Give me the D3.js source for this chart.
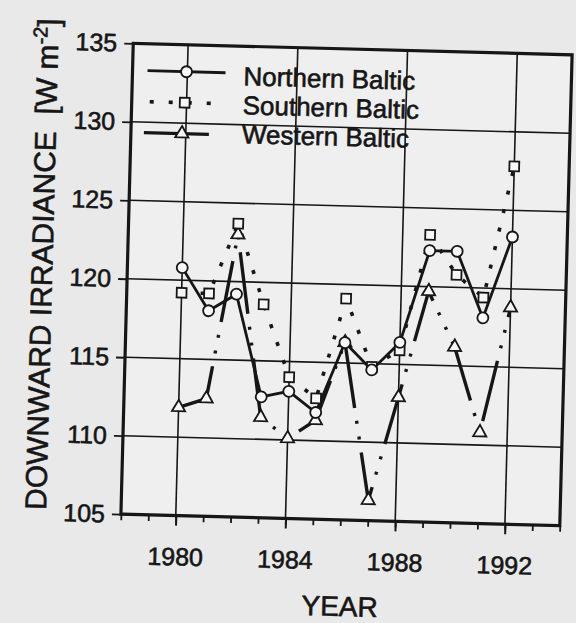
<!DOCTYPE html>
<html>
<head>
<meta charset="utf-8">
<script src="https://cdn.jsdelivr.net/npm/d3@7"></script>
<style>
  body { margin: 0; background: #e9e9e9; }
  svg { display: block; font-family: "Liberation Sans", Arial, Helvetica, sans-serif; }
  svg text { stroke: #161616; stroke-width: 0.6px; }
</style>
</head>
<body>
<script>
// yearly mean downward irradiance
const years = [1980, 1981, 1982, 1983, 1984, 1985, 1986, 1987, 1988, 1989, 1990, 1991, 1992];
const northern = [120.8, 118.1, 119.2, 112.7, 113.1, 111.8, 116.3, 114.6, 116.4, 122.3, 122.3, 118.1, 123.3];
const southern = [119.2, 119.2, 123.7, 118.6, 114.0, 112.7, 119.1, 114.8, 115.9, 123.3, 120.8, 119.4, 127.8];
const western = [111.9, 112.5, 123.0, 111.4, 110.1, 111.3, 116.3, 106.3, 112.9, 119.7, 116.2, 110.8, 118.8];
const yTicks = [105, 110, 115, 120, 125, 130, 135];
const xTicks = [1980, 1984, 1988, 1992];
const seriesNames = ["Northern Baltic", "Southern Baltic", "Western Baltic"];

const W = 576, H = 623,
      margin = {top: 49, right: 10, bottom: 103, left: 127},
      w = W - margin.left - margin.right,
      h = H - margin.top - margin.bottom,
      ink = "#161616";

const svg = d3.select("body")
  .append("svg")
  .attr("width", W)
  .attr("height", H);

svg.append("rect")
  .attr("width", W)
  .attr("height", H)
  .attr("fill", "#e9e9e9");

// the scanned figure sits slightly tilted on the page
const g = svg.append("g")
  .attr("transform", "rotate(1.5,346.5,284.75)");

const xScale = d3.scaleLinear()
  .domain([1978, 1994])
  .range([margin.left, margin.left + w]);

const yScale = d3.scaleLinear()
  .domain([105, 135])
  .range([margin.top + h, margin.top]);

g.append("rect")
  .attr("x", margin.left)
  .attr("y", margin.top)
  .attr("width", w)
  .attr("height", h)
  .attr("fill", "#efefef");

// grid
g.selectAll(".hgrid")
  .data(yTicks.slice(1, -1))
  .enter().append("line")
  .attr("x1", margin.left)
  .attr("x2", margin.left + w)
  .attr("y1", d => yScale(d))
  .attr("y2", d => yScale(d))
  .attr("stroke", ink)
  .attr("stroke-width", 1.6);

g.selectAll(".vgrid")
  .data(xTicks)
  .enter().append("line")
  .attr("x1", d => xScale(d))
  .attr("x2", d => xScale(d))
  .attr("y1", margin.top)
  .attr("y2", margin.top + h)
  .attr("stroke", ink)
  .attr("stroke-width", 1.6);

// axes
const yAxis = d3.axisLeft(yScale)
  .tickValues(yTicks)
  .tickSize(9)
  .tickPadding(7);

g.append("g")
  .attr("transform", "translate(" + margin.left + ",0)")
  .call(yAxis)
  .call(a => a.select(".domain").remove())
  .call(a => a.selectAll("line").attr("stroke", ink).attr("stroke-width", 1.8))
  .call(a => a.selectAll("text").attr("fill", ink).style("font-size", "25px"));

const xMinor = d3.axisBottom(xScale)
  .tickValues(d3.range(1978, 1995))
  .tickSize(6)
  .tickFormat("");

g.append("g")
  .attr("transform", "translate(0," + (margin.top + h) + ")")
  .call(xMinor)
  .call(a => a.select(".domain").remove())
  .call(a => a.selectAll("line").attr("stroke", ink).attr("stroke-width", 1.8));

const xAxis = d3.axisBottom(xScale)
  .tickValues(xTicks)
  .tickSize(10)
  .tickPadding(22)
  .tickFormat(d3.format("d"));

g.append("g")
  .attr("transform", "translate(0," + (margin.top + h) + ")")
  .call(xAxis)
  .call(a => a.select(".domain").remove())
  .call(a => a.selectAll("line").attr("stroke", ink).attr("stroke-width", 2))
  .call(a => a.selectAll("text").attr("fill", ink).style("font-size", "25px"));

// frame
g.append("rect")
  .attr("x", margin.left)
  .attr("y", margin.top)
  .attr("width", w)
  .attr("height", h)
  .attr("fill", "none")
  .attr("stroke", ink)
  .attr("stroke-width", 3.2);

// series
const line = d3.line()
  .x((d, i) => xScale(years[i]))
  .y(d => yScale(d));

g.append("path")
  .datum(western)
  .attr("d", line)
  .attr("fill", "none")
  .attr("stroke", ink)
  .attr("stroke-width", 3.4)
  .attr("stroke-dasharray", "62,13,3,13,3,13");

g.append("path")
  .datum(southern)
  .attr("d", line)
  .attr("fill", "none")
  .attr("stroke", ink)
  .attr("stroke-width", 3.6)
  .attr("stroke-dasharray", "4,15");

g.append("path")
  .datum(northern)
  .attr("d", line)
  .attr("fill", "none")
  .attr("stroke", ink)
  .attr("stroke-width", 2.8);

const markFill = "#f7f7f7";
const tri = d3.symbol().type(d3.symbolTriangle).size(75);
const sq = d3.symbol().type(d3.symbolSquare).size(95);

g.selectAll(".wmark")
  .data(western)
  .enter().append("path")
  .attr("d", tri)
  .attr("transform", (d, i) => "translate(" + xScale(years[i]) + "," + yScale(d) + ")")
  .attr("fill", markFill)
  .attr("stroke", ink)
  .attr("stroke-width", 1.8);

g.selectAll(".smark")
  .data(southern)
  .enter().append("path")
  .attr("d", sq)
  .attr("transform", (d, i) => "translate(" + xScale(years[i]) + "," + yScale(d) + ")")
  .attr("fill", markFill)
  .attr("stroke", ink)
  .attr("stroke-width", 1.8);

g.selectAll(".nmark")
  .data(northern)
  .enter().append("circle")
  .attr("cx", (d, i) => xScale(years[i]))
  .attr("cy", d => yScale(d))
  .attr("r", 5.5)
  .attr("fill", markFill)
  .attr("stroke", ink)
  .attr("stroke-width", 1.8);

// legend
const legend = g.append("g");

legend.append("line")
  .attr("x1", 142).attr("x2", 220).attr("y1", 76).attr("y2", 76)
  .attr("stroke", ink).attr("stroke-width", 2.8);
legend.append("circle")
  .attr("cx", 181).attr("cy", 76).attr("r", 5.5)
  .attr("fill", markFill).attr("stroke", ink).attr("stroke-width", 1.8);

legend.append("line")
  .attr("x1", 145).attr("x2", 219).attr("y1", 107).attr("y2", 107)
  .attr("stroke", ink).attr("stroke-width", 3.6)
  .attr("stroke-dasharray", "4,15");
legend.append("path")
  .attr("d", sq)
  .attr("transform", "translate(180,107)")
  .attr("fill", markFill).attr("stroke", ink).attr("stroke-width", 1.8);

legend.append("line")
  .attr("x1", 140).attr("x2", 205).attr("y1", 138).attr("y2", 138)
  .attr("stroke", ink).attr("stroke-width", 3.4);
legend.append("path")
  .attr("d", tri)
  .attr("transform", "translate(178,138)")
  .attr("fill", markFill).attr("stroke", ink).attr("stroke-width", 1.8);

legend.selectAll(".ltext")
  .data(seriesNames)
  .enter().append("text")
  .attr("x", 238)
  .attr("y", (d, i) => 88 + i * 29)
  .attr("fill", ink)
  .style("font-size", "26px")
  .text(d => d);

// axis titles
const yTitle = g.append("text")
  .attr("transform", "rotate(-90)")
  .attr("x", -518)
  .attr("y", 52)
  .attr("fill", ink)
  .style("font-size", "30px");
yTitle.append("tspan").text("DOWNWARD IRRADIANCE\u00a0\u00a0[W m");
yTitle.append("tspan").attr("dy", -11).style("font-size", "20px").text("-2");
yTitle.append("tspan").attr("dy", 11).text("]");

g.append("text")
  .attr("x", 348)
  .attr("y", 616)
  .attr("text-anchor", "middle")
  .attr("fill", ink)
  .style("font-size", "28px")
  .text("YEAR");
</script>
</body>
</html>
